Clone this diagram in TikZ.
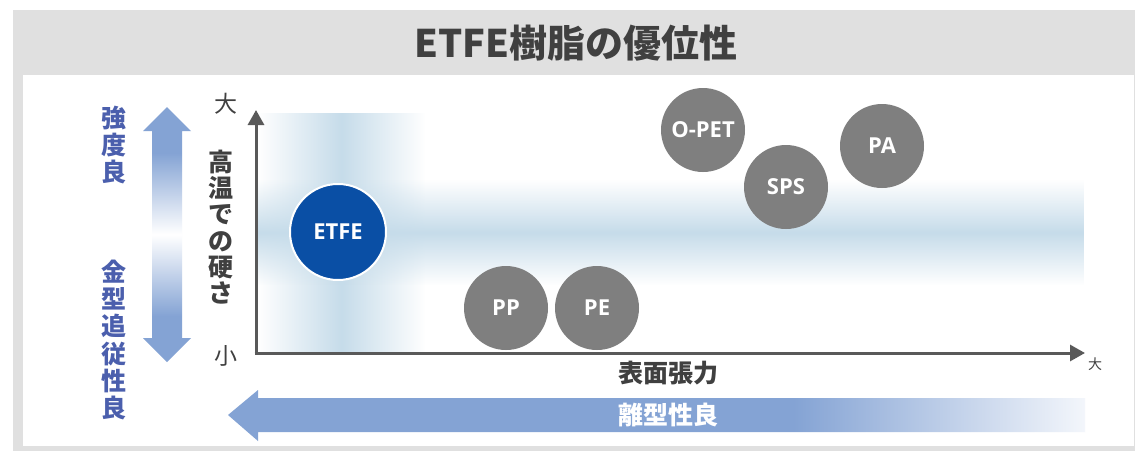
\documentclass[tikz,border=0pt]{standalone}
\usepackage{fontspec}
\setmainfont{Noto Sans CJK JP}
\newfontfamily\latinbold{Open Sans}
\usetikzlibrary{arrows.meta,fadings}
\definecolor{framegray}{HTML}{E0E0E0}
\definecolor{titlegray}{HTML}{404040}
\definecolor{axisgray}{HTML}{595959}
\definecolor{labelblue}{HTML}{4B5FAD}
\definecolor{arrowblue}{HTML}{84A3D4}
\definecolor{arrowend}{HTML}{F3F6FB}
\definecolor{bandblue}{HTML}{C6DCEA}
\definecolor{etfeblue}{HTML}{0A4FA5}
\definecolor{resingray}{HTML}{7F7F7F}
\tikzfading[name=fade tb, top color=transparent!100, bottom color=transparent!100, middle color=transparent!0]
\tikzfading[name=fade lr, left color=transparent!100, right color=transparent!100, middle color=transparent!0]
\pgfdeclarehorizontalshading{releaseshade}{100bp}{color(0bp)=(arrowblue); color(58bp)=(arrowblue); color(75bp)=(arrowend); color(100bp)=(arrowend)}
\pgfdeclareverticalshading{dblshade}{100bp}{color(0bp)=(arrowblue); color(34bp)=(arrowblue); color(50bp)=(white); color(66bp)=(arrowblue); color(100bp)=(arrowblue)}
\tikzset{
  resin/.style={circle, fill=resingray, minimum size=84pt, inner sep=0pt, text=white, font=\latinbold\bfseries\fontsize{22}{24}\selectfont},
  etfe/.style={circle, fill=etfeblue, draw=white, line width=2pt, minimum size=96pt, inner sep=0pt, text=white, font=\latinbold\bfseries\fontsize{22}{24}\selectfont},
  axis/.style={draw=axisgray, line width=3pt, -{Triangle[length=15pt,width=16pt]}},
  vlabel/.style={align=center, inner sep=0pt, font=\bfseries\fontsize{25}{27.3}\selectfont, text=labelblue},
  axislabel/.style={inner sep=0pt, font=\fontsize{23}{25}\selectfont, text=titlegray},
}
\begin{document}
\begin{tikzpicture}[x=1pt, y=-1pt]
\useasboundingbox (0,0) rectangle (1135,451);
% frame
\fill[framegray] (13,10) rectangle (1135,451);
\fill[white] (23,75) rectangle (1134,446);
\node[text=titlegray, font=\bfseries\fontsize{38}{42}\selectfont, inner sep=0pt] (title) at (576,43) {ETFE樹脂の優位性};
% bands
\fill[bandblue, path fading=fade lr] (258,113) rectangle (425,353);
\fill[bandblue, path fading=fade tb] (258,180) rectangle (1085,285);
% axes
\coordinate (O) at (256,353);
\coordinate (ytip) at (256,110);
\coordinate (xtip) at (1085,353);
\draw[axis] (256,354.5) -- (ytip);
\draw[axis] (254.5,353) -- (xtip);
\node[axislabel] (ybig) at (226,104) {大};
\node[axislabel] (ysmall) at (226,356) {小};
\node[inner sep=0pt, font=\fontsize{14}{16}\selectfont, text=titlegray] (xbig) at (1095,364) {大};
\node[align=center, inner sep=0pt, font=\bfseries\fontsize{25}{26.3}\selectfont, text=titlegray] (ytitle) at (221,227) {高\\温\\で\\の\\硬\\さ};
\node[inner sep=0pt, font=\bfseries\fontsize{25}{27}\selectfont, text=titlegray] (xtitle) at (668,373) {表面張力};
% left labels
\node[vlabel] (strength) at (114,145) {強\\度\\良};
\node[vlabel] (mold) at (114,340) {金\\型\\追\\従\\性\\良};
% double arrow
\shade[shading=dblshade] (167,107) -- (191,131) -- (182,131) -- (182,338) -- (191,338) -- (167,362) -- (143,338) -- (152,338) -- (152,131) -- (143,131) -- cycle;
% bottom arrow
\shade[shading=releaseshade] (228,415) -- (258,390) -- (258,398) -- (1085,398) -- (1085,432) -- (258,432) -- (258,441) -- cycle;
\node[inner sep=0pt, font=\bfseries\fontsize{25}{27}\selectfont, text=white] (release) at (668,415) {離型性良};
% resins
\node[etfe] (ETFE) at (338,232) {ETFE};
\node[resin] (PP) at (506,308) {PP};
\node[resin] (PE) at (597,308) {PE};
\node[resin] (OPET) at (703,130) {O-PET};
\node[resin] (SPS) at (786,187) {SPS};
\node[resin] (PA) at (882,146) {PA};
\end{tikzpicture}
\end{document}
